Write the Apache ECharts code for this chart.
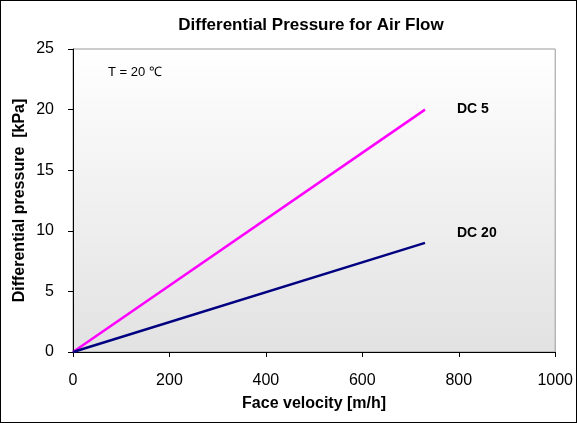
<!DOCTYPE html>
<html>
<head>
<meta charset="utf-8">
<script src="https://cdn.jsdelivr.net/npm/echarts@6/dist/echarts.min.js"></script>
<style>
html,body{margin:0;padding:0;background:#fff;}
#c{width:577px;height:423px;box-sizing:border-box;border:1px solid #000;}
</style>
</head>
<body>
<div id="c"></div>
<script>
const velocity = [0, 730];
const dc5 = [0, 20];
const dc20 = [0, 9];
const seriesNames = ['DC 5', 'DC 20'];
const xTicks = [0, 200, 400, 600, 800, 1000];
const yTicks = [0, 5, 10, 15, 20, 25];

const chart = echarts.init(document.getElementById('c'));
const font = 'Liberation Sans, Arial, sans-serif';
chart.setOption({
  animation: false,
  textStyle: {fontFamily: font},
  title: {
    text: 'Differential Pressure for Air Flow',
    left: 305, top: 11, textAlign: 'center',
    textStyle: {fontSize: 17, fontWeight: 'bold', color: '#000', fontFamily: font}
  },
  grid: {
    left: 72, right: 20, top: 48, bottom: 70,
    show: true,
    borderColor: '#999', borderWidth: 1,
    backgroundColor: new echarts.graphic.LinearGradient(0, 0, 0, 1, [
      {offset: 0, color: '#ffffff'},
      {offset: 1, color: '#e2e2e2'}
    ])
  },
  xAxis: {
    type: 'value', min: xTicks[0], max: xTicks[xTicks.length - 1], interval: 200,
    name: 'Face velocity [m/h]', nameLocation: 'middle', nameGap: 44,
    nameMoveOverlap: false,
    nameTextStyle: {fontSize: 16, fontWeight: 'bold', color: '#000', fontFamily: font},
    axisLine: {lineStyle: {color: '#000', width: 1}},
    axisTick: {show: true, inside: false, length: 5, lineStyle: {color: '#000'}},
    axisLabel: {fontSize: 16, color: '#000', margin: 21, fontFamily: font,
      formatter: v => String(v)},
    splitLine: {show: false}
  },
  yAxis: {
    type: 'value', min: yTicks[0], max: yTicks[yTicks.length - 1], interval: 5,
    name: 'Differential pressure  [kPa]', nameLocation: 'middle', nameGap: 45,
    nameMoveOverlap: false,
    nameTextStyle: {fontSize: 16, fontWeight: 'bold', color: '#000', fontFamily: font},
    axisLine: {show: true, lineStyle: {color: '#000', width: 1}},
    axisTick: {show: true, inside: false, length: 5, lineStyle: {color: '#000'}},
    axisLabel: {fontSize: 16, color: '#000', margin: 19, fontFamily: font},
    splitLine: {show: false}
  },
  graphic: [{
    type: 'text', left: 107, top: 65,
    style: {text: 'T = 20 ℃', fontSize: 13, fill: '#000', fontFamily: font}
  }],
  series: [
    {
      name: seriesNames[0], type: 'line', showSymbol: false,
      data: velocity.map((v, i) => [v, dc5[i]]),
      lineStyle: {color: '#ff00ff', width: 2.5},
      itemStyle: {color: '#ff00ff'},
      endLabel: {show: true, formatter: seriesNames[0], distance: 32, offset: [0, 0],
        fontSize: 14, fontWeight: 'bold', color: '#000', fontFamily: font}
    },
    {
      name: seriesNames[1], type: 'line', showSymbol: false,
      data: velocity.map((v, i) => [v, dc20[i]]),
      lineStyle: {color: '#000080', width: 2.5},
      itemStyle: {color: '#000080'},
      endLabel: {show: true, formatter: seriesNames[1], distance: 32, offset: [0, -10],
        fontSize: 14, fontWeight: 'bold', color: '#000', fontFamily: font}
    }
  ]
});
</script>
</body>
</html>
